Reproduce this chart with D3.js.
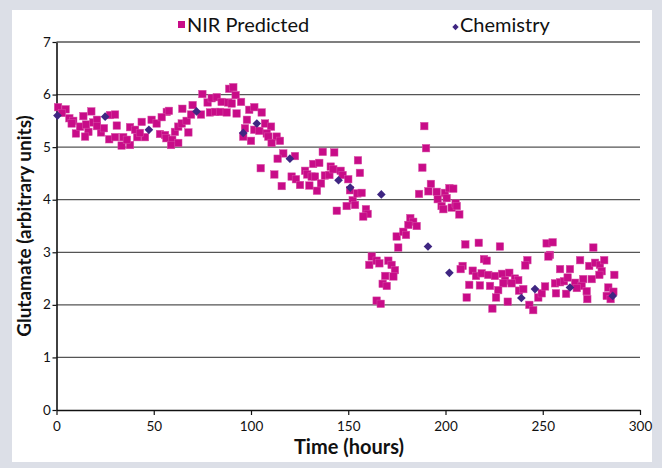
<!DOCTYPE html>
<html>
<head>
<meta charset="utf-8">
<script src="https://cdn.jsdelivr.net/npm/d3@7"></script>
<style>
  body { margin: 0; background: #dcdfe7; }
  svg { display: block; font-family: Lato, "Noto Sans", sans-serif; }
</style>
</head>
<body>
<div id="chart"></div>
<script>
// NIR predicted glutamate: [time (hours), value]
const nirPredicted = [
  [0.8,5.76],[4.7,5.72],[2.8,5.65],[6.6,5.55],[8.6,5.50],[7.8,5.45],[10.0,5.26],[12.1,5.39],
  [13.8,5.59],[17.9,5.68],[15.2,5.43],[16.4,5.29],[14.7,5.20],[18.9,5.47],[20.8,5.52],[22.9,5.28],
  [27.5,5.61],[30.1,5.62],[31.0,5.41],[27.1,5.15],[30.1,5.19],[33.5,5.03],[37.8,5.04],[34.3,5.19],
  [37.8,5.38],[40.4,5.33],[41.5,5.19],[43.8,5.48],[45.5,5.19],[48.9,5.52],[51.5,5.45],[53.2,5.25],
  [55.8,5.23],[56.7,5.67],[54.1,5.57],[42.9,5.27],[36.2,5.14],[24.4,5.36],[20.8,5.40],
  [57.8,5.69],[56.5,5.17],[59.5,5.14],[62.6,5.08],[58.9,5.04],[60.9,5.29],[62.6,5.39],[64.4,5.45],
  [66.9,5.50],[67.8,5.28],[64.7,5.73],[69.2,5.62],[70.0,5.80],[74.3,5.62],[75.0,6.01],[77.7,5.85],
  [78.9,5.66],[81.5,5.67],[79.8,5.93],[82.4,5.95],[84.1,5.67],[84.9,5.86],[87.5,5.66],[88.3,5.85],
  [88.8,6.11],[90.9,6.14],[92.1,5.99],[90.1,5.83],[92.6,5.64],[94.9,5.86],[99.1,5.71],[101.7,5.76],
  [105.5,5.66],[97.9,5.52],[96.9,5.36],[96.0,5.20],[100.0,5.12],[101.7,5.33],[104.3,5.31],[107.2,5.45],
  [110.3,5.39],[108.1,5.26],[108.9,5.20],[113.2,5.20],[110.6,5.08],[114.9,5.12],[116.6,4.88],[113.7,4.78],
  [105.0,4.60],[112.0,4.48],[115.8,4.26],
  [122.6,4.83],[136.9,4.91],[142.8,4.90],[120.9,4.44],[123.1,4.39],[125.2,4.28],[127.8,4.55],[128.9,4.48],
  [131.2,4.44],[130.0,4.27],[132.0,4.68],[135.1,4.70],[132.9,4.44],[136.0,4.31],[133.9,4.17],[138.0,4.46],
  [140.3,4.47],[141.0,4.63],[142.3,4.58],[146.1,4.55],[147.1,4.47],[150.0,4.39],[155.0,4.75],[156.0,4.51],
  [150.9,4.18],[152.3,3.99],[153.5,3.90],[149.2,3.88],[154.7,4.12],[156.9,4.13],[144.1,3.79],[159.1,3.82],
  [160.0,3.73],[157.7,3.68],
  [174.9,3.30],[175.7,3.09],[162.1,2.92],[160.8,2.76],[164.6,2.84],[166.0,2.79],[170.6,2.84],[172.3,2.76],
  [174.0,2.66],[173.2,2.54],[169.0,2.55],[167.7,2.40],[169.8,2.36],[164.6,2.08],[166.7,2.02],
  [189.1,5.40],[190.0,4.98],[188.1,4.61],[192.5,4.30],[191.2,4.16],[186.4,4.11],[195.5,4.15],[196.0,4.01],
  [199.7,4.13],[202.0,4.22],[204.0,4.21],[200.6,4.03],[198.0,3.88],[198.9,3.82],[203.2,3.85],[205.2,3.93],
  [205.8,3.88],[207.1,3.72],[181.9,3.65],[183.4,3.58],[185.2,3.50],[180.9,3.52],[178.3,3.39],[179.7,3.33],
  [210.2,3.15],[217.1,3.18],[228.0,3.11],[252.0,3.17],[255.1,3.19],[276.0,3.09],[219.8,2.87],[221.2,2.84],
  [208.8,2.74],[207.8,2.68],[214.0,2.65],[215.7,2.55],[218.6,2.60],[222.0,2.57],[225.4,2.55],[229.1,2.59],
  [232.8,2.61],[230.6,2.46],[235.7,2.50],[237.4,2.47],[234.0,2.41],[229.7,2.41],[212.2,2.38],[217.7,2.37],
  [222.9,2.36],[227.1,2.28],[210.9,2.14],[226.0,2.14],[232.0,2.06],[224.1,1.93],[237.8,2.27],[240.0,2.30],
  [242.1,2.85],[241.0,2.75],[243.1,2.00],[245.1,1.90],[247.7,2.14],[249.5,2.22],[251.2,2.35],[253.7,2.95],
  [252.9,2.92],[258.9,2.68],[264.0,2.68],[256.3,2.41],[258.9,2.43],[260.9,2.45],[262.8,2.52],[266.6,2.42],
  [269.2,2.85],[270.8,2.49],[270.0,2.36],[267.5,2.32],[256.8,2.22],[262.0,2.21],[272.6,2.26],[272.9,2.11],
  [273.9,2.74],[276.9,2.80],[279.4,2.76],[281.6,2.85],[280.3,2.64],[279.1,2.57],[275.2,2.49],[286.8,2.57],
  [283.7,2.33],[286.3,2.25],[282.9,2.17],[284.9,2.11]
];

// Reference chemistry measurements: [time (hours), value]
const chemistry = [
  [0.5,5.60],[25,5.58],[47.5,5.33],[72,5.68],[96,5.27],[103,5.45],[120,4.78],[145,4.37],
  [151,4.23],[167,4.10],[191,3.11],[202,2.61],[239,2.13],[246,2.30],[264,2.33],[286,2.17]
];

const xTicks = [0, 50, 100, 150, 200, 250, 300];
const yTicks = [0, 1, 2, 3, 4, 5, 6, 7];

const W = 662, H = 468;
const margin = {top: 42, right: 22, bottom: 58, left: 56.5};

const svg = d3.select("#chart").append("svg")
  .attr("width", W).attr("height", H);

// white panel
svg.append("rect")
  .attr("x", 12).attr("y", 10).attr("width", 640).attr("height", 452)
  .attr("fill", "#fff");

const x = d3.scaleLinear().domain([0, 300]).range([margin.left, W - margin.right]);
const y = d3.scaleLinear().domain([0, 7]).range([H - margin.bottom, margin.top]);

// horizontal gridlines
svg.append("g").selectAll("line").data(yTicks.filter(d => d > 0)).join("line")
  .attr("x1", x(0)).attr("x2", x(300))
  .attr("y1", d => y(d)).attr("y2", d => y(d))
  .attr("stroke", "#555").attr("stroke-width", 1.3);

// axes
const xAxis = svg.append("g")
  .attr("transform", `translate(0,${y(0)})`)
  .call(d3.axisBottom(x).tickValues(xTicks).tickFormat(d3.format("d")).tickSize(5).tickSizeOuter(0));
const yAxis = svg.append("g")
  .attr("transform", `translate(${x(0)},0)`)
  .call(d3.axisLeft(y).tickValues(yTicks).tickFormat(d3.format("d")).tickSize(4).tickSizeOuter(0));

[xAxis, yAxis].forEach(a => {
  a.select(".domain").attr("stroke", "#111").attr("stroke-width", 1.6);
  a.selectAll(".tick line").attr("stroke", "#111").attr("stroke-width", 1.2);
  a.selectAll("text").attr("font-family", "Lato, sans-serif")
    .attr("font-size", 13.5).attr("fill", "#111");
});
xAxis.selectAll("text").attr("dy", "0.95em");
yAxis.selectAll("text").attr("dx", "0.1em").attr("dy", "0.3em");

// NIR predicted squares
const sq = 7.5;
svg.append("g").selectAll("rect").data(nirPredicted).join("rect")
  .attr("x", d => x(d[0]) - sq / 2)
  .attr("y", d => y(d[1]) - sq / 2)
  .attr("width", sq).attr("height", sq)
  .attr("fill", "#c80c88")
  .attr("stroke", "#d750a6").attr("stroke-width", 0.5);

// Chemistry diamonds
const diamond = d3.symbol().type(d3.symbolDiamond2).size(48);
svg.append("g").selectAll("path").data(chemistry).join("path")
  .attr("transform", d => `translate(${x(d[0])},${y(d[1])})`)
  .attr("d", diamond)
  .attr("fill", "#3f2682");

// legend
const legend = svg.append("g").attr("font-size", 20).attr("fill", "#111");
legend.append("rect").attr("x", 178).attr("y", 21).attr("width", 7).attr("height", 7)
  .attr("fill", "#c80c88");
legend.append("text").attr("x", 187).attr("y", 32).text("NIR Predicted");
legend.append("path")
  .attr("transform", "translate(455.5,27)")
  .attr("d", d3.symbol().type(d3.symbolDiamond2).size(26))
  .attr("fill", "#3f2682");
legend.append("text").attr("x", 460).attr("y", 32).text("Chemistry");

// axis titles
svg.append("text")
  .attr("x", 349).attr("y", 454)
  .attr("text-anchor", "middle").attr("font-size", 20).attr("font-weight", "bold")
  .attr("fill", "#111").text("Time (hours)");
svg.append("text")
  .attr("transform", `translate(31,${(y(0) + y(7)) / 2}) rotate(-90)`)
  .attr("text-anchor", "middle").attr("font-size", 19).attr("font-weight", "bold")
  .attr("fill", "#111").text("Glutamate (arbitrary units)");
</script>
</body>
</html>
